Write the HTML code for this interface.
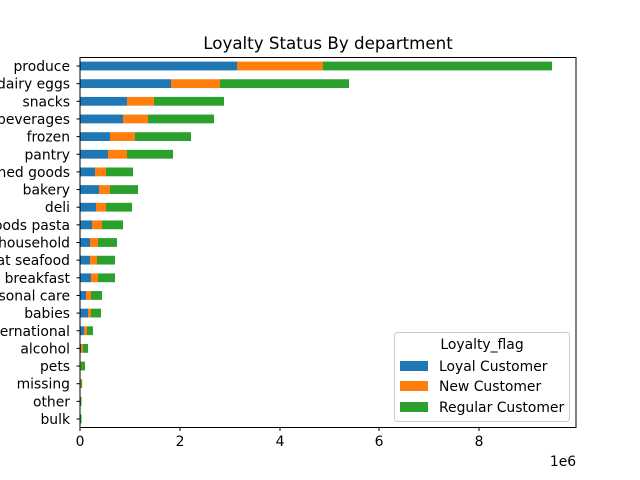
<!DOCTYPE html>
<html><head><style>body{margin:0;background:#fff}svg{display:block}text{font-family:"DejaVu Sans","Liberation Sans",sans-serif;fill:#000}</style></head><body>
<svg width="640" height="480" viewBox="0 0 640 480">
<rect width="640" height="480" fill="#fff"/>
<text x="328" y="49" font-size="16.7" text-anchor="middle">Loyalty Status By department</text>
<g font-size="13.9" text-anchor="end">
<g transform="translate(0,66)"><rect x="80" y="-4.4" width="157" height="8.8" fill="#1f77b4"/><rect x="237" y="-4.4" width="86" height="8.8" fill="#ff7f0e"/><rect x="323" y="-4.4" width="229" height="8.8" fill="#2ca02c"/><line x1="76.5" x2="80" stroke="#000"/><text x="70" y="5">produce</text></g>
<g transform="translate(0,83.65)"><rect x="80" y="-4.4" width="91" height="8.8" fill="#1f77b4"/><rect x="171" y="-4.4" width="49" height="8.8" fill="#ff7f0e"/><rect x="220" y="-4.4" width="129" height="8.8" fill="#2ca02c"/><line x1="76.5" x2="80" stroke="#000"/><text x="70" y="5">dairy eggs</text></g>
<g transform="translate(0,101.3)"><rect x="80" y="-4.4" width="47" height="8.8" fill="#1f77b4"/><rect x="127" y="-4.4" width="27" height="8.8" fill="#ff7f0e"/><rect x="154" y="-4.4" width="70" height="8.8" fill="#2ca02c"/><line x1="76.5" x2="80" stroke="#000"/><text x="70" y="5">snacks</text></g>
<g transform="translate(0,118.95)"><rect x="80" y="-4.4" width="43" height="8.8" fill="#1f77b4"/><rect x="123" y="-4.4" width="25" height="8.8" fill="#ff7f0e"/><rect x="148" y="-4.4" width="66" height="8.8" fill="#2ca02c"/><line x1="76.5" x2="80" stroke="#000"/><text x="70" y="5">beverages</text></g>
<g transform="translate(0,136.6)"><rect x="80" y="-4.4" width="30" height="8.8" fill="#1f77b4"/><rect x="110" y="-4.4" width="25" height="8.8" fill="#ff7f0e"/><rect x="135" y="-4.4" width="56" height="8.8" fill="#2ca02c"/><line x1="76.5" x2="80" stroke="#000"/><text x="70" y="5">frozen</text></g>
<g transform="translate(0,154.25)"><rect x="80" y="-4.4" width="28" height="8.8" fill="#1f77b4"/><rect x="108" y="-4.4" width="19" height="8.8" fill="#ff7f0e"/><rect x="127" y="-4.4" width="46" height="8.8" fill="#2ca02c"/><line x1="76.5" x2="80" stroke="#000"/><text x="70" y="5">pantry</text></g>
<g transform="translate(0,171.9)"><rect x="80" y="-4.4" width="15" height="8.8" fill="#1f77b4"/><rect x="95" y="-4.4" width="11" height="8.8" fill="#ff7f0e"/><rect x="106" y="-4.4" width="27" height="8.8" fill="#2ca02c"/><line x1="76.5" x2="80" stroke="#000"/><text x="70" y="5">canned goods</text></g>
<g transform="translate(0,189.55)"><rect x="80" y="-4.4" width="19" height="8.8" fill="#1f77b4"/><rect x="99" y="-4.4" width="11" height="8.8" fill="#ff7f0e"/><rect x="110" y="-4.4" width="28" height="8.8" fill="#2ca02c"/><line x1="76.5" x2="80" stroke="#000"/><text x="70" y="5">bakery</text></g>
<g transform="translate(0,207.2)"><rect x="80" y="-4.4" width="16" height="8.8" fill="#1f77b4"/><rect x="96" y="-4.4" width="10" height="8.8" fill="#ff7f0e"/><rect x="106" y="-4.4" width="26" height="8.8" fill="#2ca02c"/><line x1="76.5" x2="80" stroke="#000"/><text x="70" y="5">deli</text></g>
<g transform="translate(0,224.85)"><rect x="80" y="-4.4" width="12" height="8.8" fill="#1f77b4"/><rect x="92" y="-4.4" width="10" height="8.8" fill="#ff7f0e"/><rect x="102" y="-4.4" width="21" height="8.8" fill="#2ca02c"/><line x1="76.5" x2="80" stroke="#000"/><text x="70" y="5">dry goods pasta</text></g>
<g transform="translate(0,242.5)"><rect x="80" y="-4.4" width="10" height="8.8" fill="#1f77b4"/><rect x="90" y="-4.4" width="8" height="8.8" fill="#ff7f0e"/><rect x="98" y="-4.4" width="19" height="8.8" fill="#2ca02c"/><line x1="76.5" x2="80" stroke="#000"/><text x="70" y="5">household</text></g>
<g transform="translate(0,260.15)"><rect x="80" y="-4.4" width="10" height="8.8" fill="#1f77b4"/><rect x="90" y="-4.4" width="7" height="8.8" fill="#ff7f0e"/><rect x="97" y="-4.4" width="18" height="8.8" fill="#2ca02c"/><line x1="76.5" x2="80" stroke="#000"/><text x="70" y="5">meat seafood</text></g>
<g transform="translate(0,277.8)"><rect x="80" y="-4.4" width="11" height="8.8" fill="#1f77b4"/><rect x="91" y="-4.4" width="7" height="8.8" fill="#ff7f0e"/><rect x="98" y="-4.4" width="17" height="8.8" fill="#2ca02c"/><line x1="76.5" x2="80" stroke="#000"/><text x="70" y="5">breakfast</text></g>
<g transform="translate(0,295.45)"><rect x="80" y="-4.4" width="6" height="8.8" fill="#1f77b4"/><rect x="86" y="-4.4" width="5" height="8.8" fill="#ff7f0e"/><rect x="91" y="-4.4" width="11" height="8.8" fill="#2ca02c"/><line x1="76.5" x2="80" stroke="#000"/><text x="70" y="5">personal care</text></g>
<g transform="translate(0,313.1)"><rect x="80" y="-4.4" width="8" height="8.8" fill="#1f77b4"/><rect x="88" y="-4.4" width="3" height="8.8" fill="#ff7f0e"/><rect x="91" y="-4.4" width="10" height="8.8" fill="#2ca02c"/><line x1="76.5" x2="80" stroke="#000"/><text x="70" y="5">babies</text></g>
<g transform="translate(0,330.75)"><rect x="80" y="-4.4" width="4" height="8.8" fill="#1f77b4"/><rect x="84" y="-4.4" width="3" height="8.8" fill="#ff7f0e"/><rect x="87" y="-4.4" width="6" height="8.8" fill="#2ca02c"/><line x1="76.5" x2="80" stroke="#000"/><text x="70" y="5">international</text></g>
<g transform="translate(0,348.4)"><rect x="80" y="-4.4" width="1" height="8.8" fill="#1f77b4"/><rect x="81" y="-4.4" width="2" height="8.8" fill="#ff7f0e"/><rect x="83" y="-4.4" width="5" height="8.8" fill="#2ca02c"/><line x1="76.5" x2="80" stroke="#000"/><text x="70" y="5">alcohol</text></g>
<g transform="translate(0,366.05)"><rect x="80" y="-4.4" width="1" height="8.8" fill="#ff7f0e"/><rect x="81" y="-4.4" width="4" height="8.8" fill="#2ca02c"/><line x1="76.5" x2="80" stroke="#000"/><text x="70" y="5">pets</text></g>
<g transform="translate(0,383.7)"><rect x="80.5" y="-4.4" width="0.7" height="8.8" fill="#ff7f0e"/><rect x="81.2" y="-4.4" width="1" height="8.8" fill="#2ca02c"/><line x1="76.5" x2="80" stroke="#000"/><text x="70" y="5">missing</text></g>
<g transform="translate(0,401.35)"><rect x="80.3" y="-4.4" width="1.2" height="8.8" fill="#2ca02c"/><line x1="76.5" x2="80" stroke="#000"/><text x="70" y="5">other</text></g>
<g transform="translate(0,419)"><rect x="80.3" y="-4.4" width="1.2" height="8.8" fill="#2ca02c"/><line x1="76.5" x2="80" stroke="#000"/><text x="70" y="5">bulk</text></g>
</g>
<rect x="80" y="57.5" width="496" height="370" fill="none" stroke="#000" stroke-width="1"/>
<g font-size="13.9" text-anchor="middle">
<line x1="80" y1="427.5" x2="80" y2="431" stroke="#000"/><text x="80" y="446">0</text>
<line x1="180" y1="427.5" x2="180" y2="431" stroke="#000"/><text x="180" y="446">2</text>
<line x1="280" y1="427.5" x2="280" y2="431" stroke="#000"/><text x="280" y="446">4</text>
<line x1="379" y1="427.5" x2="379" y2="431" stroke="#000"/><text x="379" y="446">6</text>
<line x1="479" y1="427.5" x2="479" y2="431" stroke="#000"/><text x="479" y="446">8</text>
<text x="563" y="466">1e6</text>
</g>
<rect x="394.5" y="332.5" width="175" height="89" rx="3" fill="#fff" fill-opacity="0.8" stroke="#ccc"/>
<text x="482" y="349" font-size="13.9" text-anchor="middle">Loyalty_flag</text>
<rect x="400" y="361" width="28" height="10" fill="#1f77b4"/><text x="439" y="371" font-size="13.9">Loyal Customer</text>
<rect x="400" y="381" width="28" height="10" fill="#ff7f0e"/><text x="439" y="391" font-size="13.9">New Customer</text>
<rect x="400" y="402" width="28" height="10" fill="#2ca02c"/><text x="439" y="412" font-size="13.9">Regular Customer</text>
</svg>
</body></html>
